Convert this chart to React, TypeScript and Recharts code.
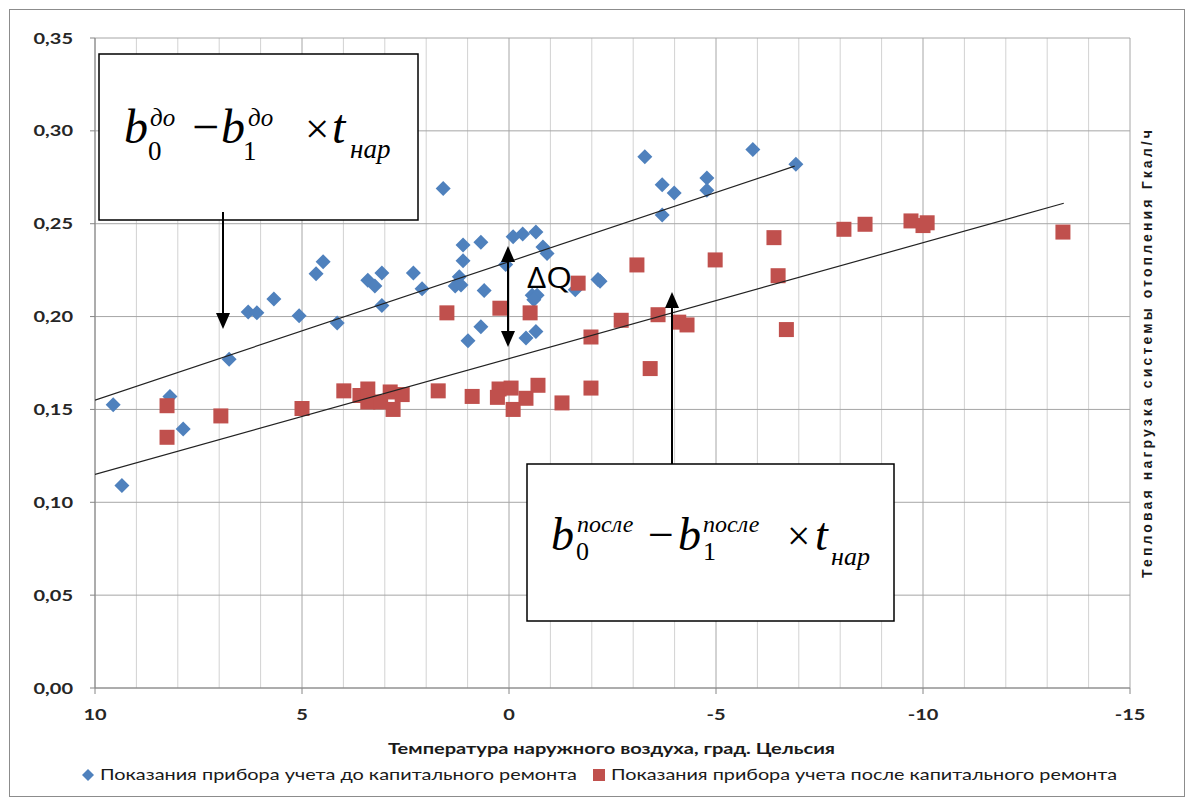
import React from 'react';
import { ScatterChart, Scatter, XAxis, YAxis, ReferenceLine } from 'recharts';

// показания до капитального ремонта
const beforeTemp = [9.56, 9.35, 8.19, 7.87, 6.76, 6.3, 6.09, 5.68, 5.07, 4.66, 4.49, 4.15, 3.41, 3.24, 3.07, 3.07, 2.31, 2.1, 1.59, 1.11, 1.11, 1.2, 1.3, 1.16, 0.68, 0.6, 0.68, 0.99, 0.08, -0.1, -0.33, -0.65, -0.82, -0.92, -0.56, -0.68, -0.6, -0.41, -0.65, -1.6, -2.15, -2.2, -3.28, -3.7, -3.99, -3.7, -4.78, -4.78, -5.89, -6.93];
const beforeLoad = [0.1525, 0.109, 0.157, 0.1395, 0.177, 0.2025, 0.202, 0.2095, 0.2005, 0.223, 0.2295, 0.1966, 0.2195, 0.2165, 0.2235, 0.206, 0.2235, 0.215, 0.269, 0.2385, 0.23, 0.2215, 0.2165, 0.217, 0.24, 0.214, 0.1945, 0.187, 0.228, 0.243, 0.2445, 0.2455, 0.2375, 0.234, 0.2115, 0.2115, 0.209, 0.1885, 0.192, 0.2145, 0.22, 0.219, 0.286, 0.271, 0.2665, 0.2547, 0.2746, 0.268, 0.29, 0.282];

// показания после капитального ремонта
const afterTemp = [8.26, 8.26, 6.96, 5.0, 3.99, 3.6, 3.41, 3.41, 3.1, 2.87, 2.8, 2.58, 1.71, 1.5, 0.89, 0.22, 0.24, -0.05, 0.28, -0.1, -0.41, -0.7, -0.51, -1.28, -1.67, -1.98, -1.98, -2.71, -3.09, -3.41, -3.6, -4.1, -4.3, -4.98, -6.4, -6.5, -6.7, -8.09, -8.6, -9.71, -10.0, -10.1, -13.38];
const afterLoad = [0.152, 0.135, 0.1465, 0.1505, 0.16, 0.1575, 0.161, 0.154, 0.154, 0.1594, 0.15, 0.158, 0.16, 0.202, 0.157, 0.2045, 0.161, 0.1615, 0.1565, 0.15, 0.156, 0.163, 0.202, 0.1535, 0.218, 0.189, 0.1615, 0.198, 0.2278, 0.172, 0.201, 0.197, 0.1955, 0.2305, 0.2425, 0.222, 0.193, 0.247, 0.2497, 0.2515, 0.249, 0.2505, 0.2455];

// линии тренда
const trendBeforeTemp = [10, -6.9];
const trendBeforeLoad = [0.155, 0.281];
const trendAfterTemp = [10, -13.4];
const trendAfterLoad = [0.115, 0.261];

const xTicks = [10, 5, 0, -5, -10, -15];
const xMinor = [9, 8, 7, 6, 4, 3, 2, 1, -1, -2, -3, -4, -6, -7, -8, -9, -11, -12, -13, -14];
const yTicks = [0, 0.05, 0.1, 0.15, 0.2, 0.25, 0.3, 0.35];

const legendBefore = 'Показания прибора учета до капитального ремонта';
const legendAfter = 'Показания прибора учета после капитального ремонта';
const xTitle = 'Температура наружного воздуха, град. Цельсия';
const yTitle = 'Тепловая нагрузка системы отопления Гкал/ч';

const toRows = (ts: number[], qs: number[]) => ts.map((t, i) => ({ t, q: qs[i] }));
const beforeData = toRows(beforeTemp, beforeLoad);
const afterData = toRows(afterTemp, afterLoad);
const trendBefore = toRows(trendBeforeTemp, trendBeforeLoad);
const trendAfter = toRows(trendAfterTemp, trendAfterLoad);

const BLUE = '#4F81BD';
const RED = '#C0504D';
const labelFont = 'Lato, "Open Sans", sans-serif';
const mathFont = '"Liberation Serif", "DejaVu Serif", serif';

const Diamond = (p: any) => {
  const { cx, cy } = p;
  const r = 7.5;
  return <polygon points={`${cx},${cy - r} ${cx + r},${cy} ${cx},${cy + r} ${cx - r},${cy}`} fill={BLUE} />;
};
const Square = (p: any) => {
  const { cx, cy } = p;
  return <rect x={cx - 7.5} y={cy - 7.5} width={15} height={15} fill={RED} />;
};
const NoDot = () => <g />;

const fmtY = (v: number) => v.toFixed(2).replace('.', ',');

// tick labels in the source are a bit stretched horizontally
const XTick = (p: any) => {
  const { x, y, payload } = p;
  return (
    <g transform={`translate(${x},${y + 14}) scale(1.25,1)`}>
      <text textAnchor="middle" fontSize={16} fontWeight="bold" fill="#262626" fontFamily={labelFont}>
        {payload.value}
      </text>
    </g>
  );
};
const YTick = (p: any) => {
  const { x, y, payload } = p;
  return (
    <g transform={`translate(${x},${y + 5.5}) scale(1.25,1)`}>
      <text textAnchor="end" fontSize={16} fontWeight="bold" fill="#262626" fontFamily={labelFont}>
        {fmtY(payload.value)}
      </text>
    </g>
  );
};

function Formula({ x, y, sup, parts }: { x: number; y: number; sup: string; parts: number[] }) {
  const [supDx, subDx, minusDx, b2Dx, sup2Dx, sub2Dx, timesDx, tDx, narDx, supDy, subDy, narDy, size, small] = parts;
  const it = { fontFamily: mathFont, fontStyle: 'italic' as const, fill: '#000' };
  const up = { fontFamily: mathFont, fill: '#000' };
  return (
    <g>
      <text x={x} y={y} fontSize={size} {...it}>b</text>
      <text x={x + supDx} y={y + supDy} fontSize={small} {...it}>{sup}</text>
      <text x={x + subDx} y={y + subDy} fontSize={small + 2} {...up}>0</text>
      <text x={x + minusDx} y={y} fontSize={size} {...up}>−</text>
      <text x={x + b2Dx} y={y} fontSize={size} {...it}>b</text>
      <text x={x + sup2Dx} y={y + supDy} fontSize={small} {...it}>{sup}</text>
      <text x={x + sub2Dx} y={y + subDy} fontSize={small + 2} {...up}>1</text>
      <text x={x + timesDx} y={y} fontSize={size * 0.9} {...up}>×</text>
      <text x={x + tDx} y={y} fontSize={size} {...it}>t</text>
      <text x={x + narDx} y={y + narDy} fontSize={small + 2} {...it}>нар</text>
    </g>
  );
}

function Overlay() {
  return (
    <svg width={1188} height={803} style={{ position: 'absolute', left: 0, top: 0, pointerEvents: 'none' }}>
      <rect x={9.5} y={9.5} width={1175} height={787} fill="none" stroke="#8c8c8c" strokeWidth={1} />

      {/* y title, right side */}
      <text
        transform="translate(1152,354) rotate(-90)"
        textAnchor="middle"
        fontFamily='"Liberation Sans", Arial, sans-serif'
        fontWeight="bold"
        fontSize={14}
        fill="#1a1a1a"
        textLength={448}
        lengthAdjust="spacing"
      >
        {yTitle}
      </text>

      {/* x title */}
      <text x={388} y={754} fontFamily={labelFont} fontWeight="bold" fontSize={16} fill="#1a1a1a" textLength={447} lengthAdjust="spacingAndGlyphs">
        {xTitle}
      </text>

      {/* legend */}
      <polygon points="88,769 94,775 88,781 82,775" fill={BLUE} />
      <text x={100} y={780} fontFamily={labelFont} fontSize={15} fill="#1a1a1a" textLength={477} lengthAdjust="spacingAndGlyphs">
        {legendBefore}
      </text>
      <rect x={593} y={769} width={12} height={12} fill={RED} />
      <text x={611} y={780} fontFamily={labelFont} fontSize={15} fill="#1a1a1a" textLength={506} lengthAdjust="spacingAndGlyphs">
        {legendAfter}
      </text>

      {/* box 1 */}
      <rect x={99} y={54} width={319} height={166} fill="#fff" stroke="#000" strokeWidth={1.5} />
      <Formula x={124} y={143} sup="до" parts={[26, 24, 68, 97, 124, 119, 181, 208, 226, -17, 17, 15, 48, 25]} />
      <line x1={223} y1={212} x2={223} y2={315} stroke="#000" strokeWidth={2} />
      <polygon points="216,313 230,313 223,329" fill="#000" />

      {/* delta Q */}
      <line x1={508} y1={258} x2={508} y2={334} stroke="#000" strokeWidth={2} />
      <polygon points="501,262 515,262 508,246" fill="#000" />
      <polygon points="501,331 515,331 508,347" fill="#000" />
      <text x={527} y={288} fontFamily='"Open Sans", "Liberation Sans", sans-serif' fontSize={30} fill="#000" textLength={45} lengthAdjust="spacingAndGlyphs">ΔQ</text>

      {/* arrow 2 */}
      <line x1={672} y1={306} x2={672} y2={465} stroke="#000" strokeWidth={2} />
      <polygon points="665,308 679,308 672,292" fill="#000" />

      {/* box 2 */}
      <rect x={527} y={464} width={367} height={157} fill="#fff" stroke="#000" strokeWidth={1.5} />
      <Formula x={551} y={550} sup="после" parts={[26, 25, 97, 127, 152, 152, 236, 264, 280, -18, 10, 15, 46, 24]} />
    </svg>
  );
}

export default function App() {
  return (
    <div style={{ position: 'absolute', left: 0, top: 0, width: 1188, height: 803, background: '#fff' }}>
      <ScatterChart width={1188} height={803} margin={{ top: 38, right: 58, bottom: 75, left: 35 }}>
        <XAxis
          type="number"
          dataKey="t"
          domain={[-15, 10]}
          reversed
          ticks={xTicks}
          tick={<XTick />}
          tickSize={6}
          tickMargin={12}
          axisLine={{ stroke: '#868686' }}
          tickLine={{ stroke: '#868686' }}
          height={40}
          allowDataOverflow
        />
        <YAxis
          type="number"
          dataKey="q"
          domain={[0, 0.35]}
          ticks={yTicks}
          tick={<YTick />}
          tickSize={5}
          tickMargin={17}
          axisLine={{ stroke: '#868686' }}
          tickLine={{ stroke: '#868686' }}
          width={60}
          allowDataOverflow
        />
        {xMinor.map(v => (
          <ReferenceLine key={`mn${v}`} x={v} stroke="#D2D2D2" strokeWidth={1} />
        ))}
        {xTicks.map(v => (
          <ReferenceLine key={`mj${v}`} x={v} stroke="#A6A6A6" strokeWidth={1} />
        ))}
        {yTicks.map(v => (
          <ReferenceLine key={`h${v}`} y={v} stroke="#A6A6A6" strokeWidth={1} />
        ))}
        <Scatter name={legendBefore} data={beforeData} shape={Diamond} isAnimationActive={false} />
        <Scatter name={legendAfter} data={afterData} shape={Square} isAnimationActive={false} />
        <Scatter data={trendBefore} line={{ stroke: '#222', strokeWidth: 1.2 }} shape={NoDot} isAnimationActive={false} />
        <Scatter data={trendAfter} line={{ stroke: '#222', strokeWidth: 1.2 }} shape={NoDot} isAnimationActive={false} />
      </ScatterChart>
      <Overlay />
    </div>
  );
}
